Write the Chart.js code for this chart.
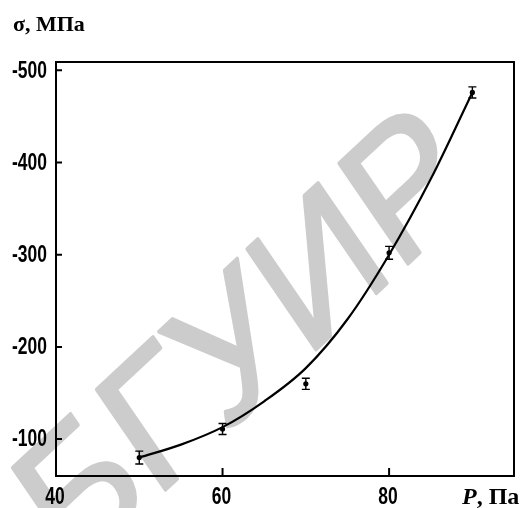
<!DOCTYPE html>
<html>
<head>
<meta charset="utf-8">
<script src="https://cdn.jsdelivr.net/npm/chart.js@4.4.1/dist/chart.umd.min.js"></script>
<style>
  html, body { margin: 0; padding: 0; background: #fff; }
  #wrap { width: 525px; height: 508px; position: relative; }
</style>
</head>
<body>
<div id="wrap"><canvas id="stressChart"></canvas></div>
<script>
// measured points
const pressure = [50, 60, 70, 80, 90];
const stress = [-80, -111, -160, -302, -476];
const stressError = [7, 6, 6, 7, 6];

// fitted curve
const fitPressure = [50, 55, 60, 65, 70, 75, 80, 85, 90];
const fitStress = [-80, -94, -113, -141, -177, -230, -300, -382, -476];

const xTicks = [40, 60, 80];
const yTicks = [-100, -200, -300, -400, -500];

const labelFont = 'bold 23px "Liberation Sans", Arial, sans-serif';
const serif = '"Liberation Serif", "Times New Roman", serif';

// narrow bold label: regular bold squeezed horizontally
function narrowText(ctx, text, x, y, align) {
    ctx.save();
    ctx.translate(x, y);
    ctx.scale(0.76, 1);
    ctx.font = labelFont;
    ctx.textAlign = align;
    ctx.fillText(text, 0, 0);
    ctx.restore();
}

// big grey stamp behind the plot
const watermark = {
    id: 'watermark',
    beforeDraw(chart) {
        const ctx = chart.ctx;
        ctx.save();
        ctx.fillStyle = 'rgb(204,204,204)';
        ctx.strokeStyle = 'rgb(204,204,204)';
        ctx.lineWidth = 3.5;
        ctx.lineJoin = 'round';
        ctx.font = '175px "Liberation Sans", Arial, sans-serif';
        ctx.textAlign = 'center';
        ctx.textBaseline = 'alphabetic';
        ctx.translate(277, 386);
        ctx.rotate(-43 * Math.PI / 180);
        ctx.transform(1, 0, -0.15, 1, 0, 0);
        ctx.fillText('БГУИР', 0, 0);
        ctx.strokeText('БГУИР', 0, 0);
        ctx.restore();
    }
};

// frame, inward ticks, error bars, labels and axis titles
const decorations = {
    id: 'decorations',
    afterDatasetsDraw(chart) {
        const ctx = chart.ctx;
        const area = chart.chartArea;
        const x = chart.scales.x;
        const y = chart.scales.y;
        ctx.save();
        ctx.strokeStyle = '#000';
        ctx.fillStyle = '#000';

        ctx.lineWidth = 1.4;
        pressure.forEach((p, i) => {
            const px = x.getPixelForValue(p);
            const top = y.getPixelForValue(stress[i] - stressError[i]);
            const bottom = y.getPixelForValue(stress[i] + stressError[i]);
            ctx.beginPath();
            ctx.moveTo(px, top);
            ctx.lineTo(px, bottom);
            ctx.moveTo(px - 4, top);
            ctx.lineTo(px + 4, top);
            ctx.moveTo(px - 4, bottom);
            ctx.lineTo(px + 4, bottom);
            ctx.stroke();
        });

        ctx.lineWidth = 2;
        ctx.strokeRect(area.left, area.top, area.right - area.left, area.bottom - area.top);

        ctx.beginPath();
        yTicks.forEach(v => {
            const py = y.getPixelForValue(v);
            ctx.moveTo(area.left, py);
            ctx.lineTo(area.left + 6, py);
        });
        xTicks.forEach(v => {
            const px = x.getPixelForValue(v);
            ctx.moveTo(px, area.bottom);
            ctx.lineTo(px, area.bottom - 8);
        });
        ctx.stroke();

        ctx.textBaseline = 'middle';
        yTicks.forEach(v => narrowText(ctx, String(v), area.left - 9, y.getPixelForValue(v) + 1, 'right'));
        ctx.textBaseline = 'alphabetic';
        xTicks.forEach(v => narrowText(ctx, String(v), x.getPixelForValue(v) - 1, 504, 'center'));

        ctx.textAlign = 'left';
        ctx.font = 'bold 22px ' + serif;
        ctx.fillText('σ, МПа', 13, 31);

        ctx.font = 'italic bold 24px ' + serif;
        ctx.fillText('P', 462, 504);
        const w = ctx.measureText('P').width;
        ctx.font = 'bold 24px ' + serif;
        ctx.fillText(', Па', 462 + w, 504);
        ctx.restore();
    }
};

new Chart(document.getElementById('stressChart'), {
    type: 'line',
    data: {
        datasets: [
            {
                label: 'fit',
                data: fitPressure.map((p, i) => ({ x: p, y: fitStress[i] })),
                borderColor: '#000',
                borderWidth: 2.2,
                pointRadius: 0,
                cubicInterpolationMode: 'monotone',
                fill: false
            },
            {
                label: 'σ',
                data: pressure.map((p, i) => ({ x: p, y: stress[i] })),
                showLine: false,
                pointRadius: 2.6,
                pointBackgroundColor: '#000',
                pointBorderColor: '#000',
                pointBorderWidth: 0
            }
        ]
    },
    options: {
        responsive: true,
        maintainAspectRatio: false,
        animation: false,
        layout: { padding: { top: 62, right: 11, left: 0, bottom: 0 } },
        plugins: {
            legend: { display: false },
            tooltip: { enabled: false }
        },
        scales: {
            x: {
                type: 'linear',
                min: 40,
                max: 95,
                afterBuildTicks: scale => { scale.ticks = xTicks.map(v => ({ value: v })); },
                afterFit: scale => { scale.height = 32; },
                grid: { display: false },
                border: { display: false },
                ticks: { display: false }
            },
            y: {
                type: 'linear',
                reverse: true,
                min: -509,
                max: -60,
                afterBuildTicks: scale => { scale.ticks = yTicks.map(v => ({ value: v })); },
                afterFit: scale => { scale.width = 56; },
                grid: { display: false },
                border: { display: false },
                ticks: { display: false }
            }
        }
    },
    plugins: [watermark, decorations]
});
</script>
</body>
</html>
